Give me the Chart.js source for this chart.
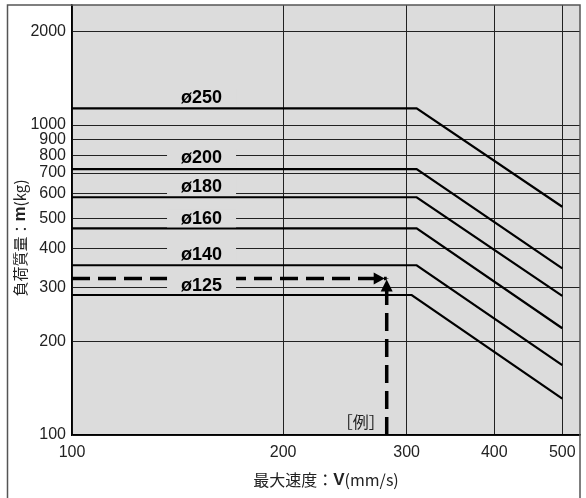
<!DOCTYPE html>
<html>
<head>
<meta charset="utf-8">
<script src="https://cdn.jsdelivr.net/npm/chart.js@4/dist/chart.umd.min.js"></script>
<style>
  html, body { margin: 0; padding: 0; background: #fff; }
  canvas { display: block; }
</style>
</head>
<body>
<canvas id="chart" width="586" height="498"></canvas>
<script>
// 負荷質量 - 最大速度 (log-log)
const diameters = ['ø250', 'ø200', 'ø180', 'ø160', 'ø140', 'ø125'];
const kneeSpeed = [310, 310, 310, 310, 310, 305];     // mm/s, end of flat part
const flatLoad = [1132, 721, 585, 464, 353, 283];     // kg, below knee
const loadAt500 = [545, 345, 281, 221, 168, 131];     // kg at 500 mm/s
const speedTicks = [100, 200, 300, 400, 500];
const loadTicks = [100, 200, 300, 400, 500, 600, 700, 800, 900, 1000, 2000];
const exampleSpeed = 281;
const exampleLoad = 320;
const maxSpeed = 500;

// where the ø labels sit (speed, load)
const labelAt = [[153, 1231], [153, 788], [153, 636], [153, 500], [153, 384], [153, 305]];

const seriesSets = diameters.map((d, i) => ({
  label: d,
  data: [
    { x: 100, y: flatLoad[i] },
    { x: kneeSpeed[i], y: flatLoad[i] },
    { x: maxSpeed, y: loadAt500[i] }
  ],
  borderColor: '#000',
  borderWidth: 2.2,
  pointRadius: 0,
  showLine: true
}));

const dashStyle = {
  borderColor: '#000',
  borderWidth: 3.5,
  borderDash: [18, 8],
  pointRadius: 0,
  showLine: true
};

const exampleSets = [
  Object.assign({ label: 'ex-h', data: [{ x: 100, y: exampleLoad }, { x: exampleSpeed, y: exampleLoad }] }, dashStyle),
  Object.assign({ label: 'ex-v', data: [{ x: exampleSpeed, y: 100 }, { x: exampleSpeed, y: exampleLoad }] }, dashStyle)
];

const GRAY = '#dcdcdc';

const decor = {
  id: 'decor',
  beforeDraw(chart) {
    const { ctx, chartArea: a } = chart;
    ctx.save();
    ctx.fillStyle = GRAY;
    ctx.fillRect(a.left, a.top, a.right - a.left, a.bottom - a.top);
    ctx.restore();
  },
  afterDatasetsDraw(chart) {
    const { ctx, chartArea: a } = chart;
    const xs = chart.scales.x, ys = chart.scales.y;

    // arrow heads of the example
    const ex = xs.getPixelForValue(exampleSpeed);
    const ey = ys.getPixelForValue(exampleLoad);
    ctx.save();
    ctx.fillStyle = '#000';
    ctx.beginPath();
    ctx.moveTo(ex - 2, ey);
    ctx.lineTo(ex - 13, ey - 6);
    ctx.lineTo(ex - 13, ey + 6);
    ctx.closePath();
    ctx.fill();
    ctx.beginPath();
    ctx.moveTo(ex, ey + 1);
    ctx.lineTo(ex - 6, ey + 13);
    ctx.lineTo(ex + 6, ey + 13);
    ctx.closePath();
    ctx.fill();

    // ø labels on gray boxes
    ctx.font = 'bold 18px "Liberation Sans", Arial, sans-serif';
    ctx.textAlign = 'center';
    ctx.textBaseline = 'middle';
    diameters.forEach((d, i) => {
      const px = xs.getPixelForValue(labelAt[i][0]);
      const py = ys.getPixelForValue(labelAt[i][1]);
      const w = ctx.measureText(d).width + 28;
      ctx.fillStyle = GRAY;
      ctx.fillRect(px - w / 2, py - 9, w, 18);
      ctx.fillStyle = '#000';
      ctx.fillText(d, px, py + 1);
    });

    // [例]
    ctx.font = '16px "Noto Sans CJK JP", sans-serif';
    ctx.fillStyle = '#222';
    ctx.fillText('［例］', xs.getPixelForValue(258), ys.getPixelForValue(110.4));

    // outer frame
    ctx.strokeStyle = '#555';
    ctx.lineWidth = 1.5;
    ctx.beginPath();
    ctx.moveTo(7.5, chart.height);
    ctx.lineTo(7.5, a.top);
    ctx.lineTo(a.right, a.top);
    ctx.lineTo(a.right, chart.height);
    ctx.stroke();

    // axis titles with bold symbol
    const drawParts = (parts, cx, cy, rot) => {
      ctx.save();
      ctx.translate(cx, cy);
      ctx.rotate(rot);
      ctx.textAlign = 'left';
      ctx.textBaseline = 'middle';
      let total = 0;
      parts.forEach(p => { ctx.font = p[1]; total += ctx.measureText(p[0]).width; });
      let x = -total / 2;
      parts.forEach(p => {
        ctx.font = p[1];
        ctx.fillStyle = '#222';
        ctx.fillText(p[0], x, 0);
        x += ctx.measureText(p[0]).width;
      });
      ctx.restore();
    };
    const jp = '15px "Noto Sans CJK JP", sans-serif';
    const jp16 = '16px "Noto Sans CJK JP", sans-serif';
    drawParts([['負荷質量：', jp], ['m', 'bold 17px "Liberation Sans", sans-serif'], ['(kg)', jp]], 20, 238, -Math.PI / 2);
    drawParts([['最大速度：', jp16], ['V', 'bold 17px "Liberation Sans", sans-serif'], ['(mm/s)', jp16]], 326, 480, 0);
    ctx.restore();
  }
};

new Chart(document.getElementById('chart'), {
  type: 'scatter',
  data: { datasets: seriesSets.concat(exampleSets) },
  options: {
    responsive: false,
    animation: false,
    layout: { padding: { left: 7, top: 5, right: 6, bottom: 0 } },
    plugins: { legend: { display: false }, tooltip: { enabled: false } },
    scales: {
      x: {
        type: 'logarithmic',
        min: 100,
        max: 530,
        afterBuildTicks: s => { s.ticks = speedTicks.map(v => ({ value: v })); },
        afterFit: s => { s.height = 63; s.paddingLeft = 0; s.paddingRight = 0; },
        grid: { color: '#222', lineWidth: 1, drawTicks: false },
        border: { color: '#000', width: 1.5 },
        ticks: {
          padding: 8,
          color: '#222',
          font: { family: '"Liberation Sans", Arial, sans-serif', size: 16 },
          callback: v => String(v),
          maxRotation: 0,
          autoSkip: false
        }
      },
      y: {
        type: 'logarithmic',
        min: 100,
        max: 2440,
        afterBuildTicks: s => { s.ticks = loadTicks.map(v => ({ value: v })); },
        afterFit: s => { s.width = 65; s.paddingTop = 0; s.paddingBottom = 0; },
        grid: { color: '#222', lineWidth: 1, drawTicks: false },
        border: { color: '#000', width: 1.5 },
        ticks: {
          padding: 6,
          color: '#222',
          font: { family: '"Liberation Sans", Arial, sans-serif', size: 16 },
          callback: v => String(v),
          autoSkip: false
        }
      }
    }
  },
  plugins: [decor]
});
</script>
</body>
</html>
